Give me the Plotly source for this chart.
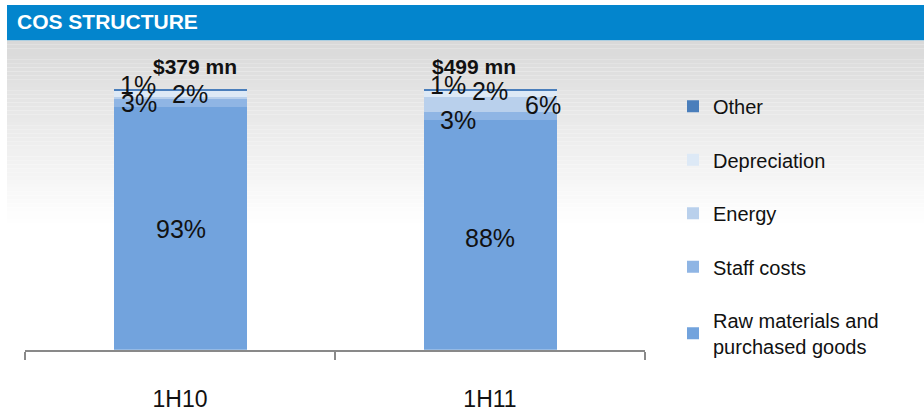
import plotly.graph_objects as go

# ---- data ----
categories = ["1H10", "1H11"]
series_names = ["Raw materials and<br>purchased goods", "Staff costs", "Energy", "Depreciation", "Other"]
raw_materials = [93, 88]
staff_costs = [3, 3]
energy = [1, 6]
depreciation = [2, 2]
other = [1, 1]
totals = ["$379 mn", "$499 mn"]
# which value labels are shown (1H10 energy label is not shown in the source)
show_label = {
    "raw": [True, True],
    "staff": [True, True],
    "energy": [False, True],
    "dep": [True, True],
    "other": [True, True],
}

# ---- style ----
W, H = 924, 412
colors = {"raw": "#72A3DD", "staff": "#8FB5E4", "energy": "#B9D0EC", "dep": "#DDE9F6", "other": "#4A7EBB"}
keys = ["raw", "staff", "energy", "dep", "other"]
values = {"raw": raw_materials, "staff": staff_costs, "energy": energy, "dep": depreciation, "other": other}
# label offsets in px (xshift, yshift) per series per category
label_shift = {
    "raw": [(1, -1), (0, -3)],
    "staff": [(-41, 0), (-32, -4)],
    "energy": [(0, 0), (53, -1)],
    "dep": [(10, 0), (0, 3)],
    "other": [(-42, 5), (-42, 5)],
}
total_shift = [(15, 22), (-16, 22)]

fig = go.Figure()
for i, k in enumerate(keys):
    fig.add_trace(go.Bar(
        x=categories, y=values[k], name=series_names[i],
        marker=dict(color=colors[k], line=dict(width=0)),
        legendgroup=k, legendrank=len(keys) - i, hoverinfo="skip",
    ))

annotations = []
for ci, cat in enumerate(categories):
    cum = 0
    for k in keys:
        v = values[k][ci]
        mid = cum + v / 2
        cum += v
        if show_label[k][ci]:
            xs, ys = label_shift[k][ci]
            annotations.append(dict(
                x=cat, y=mid, xref="x", yref="y", text=f"{v}%", showarrow=False,
                xshift=xs, yshift=ys,
                font=dict(family="Liberation Sans, Arial, sans-serif", size=25, color="#111111"),
            ))
    xs, ys = total_shift[ci]
    annotations.append(dict(
        x=cat, y=cum, xref="x", yref="y", text=f"<b>{totals[ci]}</b>", showarrow=False,
        xshift=xs, yshift=ys,
        font=dict(family="Liberation Sans, Arial, sans-serif", size=21, color="#111111"),
    ))

# header text
annotations.append(dict(
    x=15 / W, y=1 - 22 / H, xref="paper", yref="paper", xanchor="left", yanchor="middle",
    text="<b>COS STRUCTURE</b>", showarrow=False,
    font=dict(family="Liberation Sans, Arial, sans-serif", size=21, color="white"),
))

shapes = []
# header band
shapes.append(dict(type="rect", xref="paper", yref="paper", x0=7 / W, x1=1,
                   y0=1 - 41 / H, y1=1 - 5 / H, fillcolor="#0385CD", line=dict(width=0), layer="below"))
# gray gradient background
top, bot = 41, 230
n = 48
c0, c1 = (217, 217, 217), (255, 255, 255)
for i in range(n):
    py0 = top + (bot - top) * i / n
    py1 = top + (bot - top) * (i + 1) / n
    t = i / (n - 1)
    c = tuple(round(c0[j] + (c1[j] - c0[j]) * t) for j in range(3))
    shapes.append(dict(type="rect", xref="paper", yref="paper", x0=7 / W, x1=1,
                       y0=1 - py1 / H, y1=1 - py0 / H,
                       fillcolor="rgb(%d,%d,%d)" % c, line=dict(width=0), layer="below"))

fig.update_layout(
    width=W, height=H,
    margin=dict(l=0, r=0, t=0, b=0),
    paper_bgcolor="white", plot_bgcolor="rgba(0,0,0,0)",
    barmode="stack", bargap=0.571,
    showlegend=True,
    legend=dict(
        x=673 / W, xanchor="left", y=1 - 88 / H, yanchor="top",
        traceorder="grouped", tracegroupgap=24.5,
        bgcolor="rgba(0,0,0,0)",
        font=dict(family="Liberation Sans, Arial, sans-serif", size=20, color="#111111"),
    ),
    xaxis=dict(
        domain=[25 / W, 645 / W], showline=True, linecolor="#898989", linewidth=2,
        ticks="outside", ticklen=8, tickwidth=2, tickcolor="#898989", tickson="boundaries",
        ticklabelstandoff=28,
        tickfont=dict(family="Liberation Sans, Arial, sans-serif", size=23, color="#111111"),
        showgrid=False, zeroline=False, fixedrange=True,
    ),
    yaxis=dict(
        domain=[(H - 355) / H, (H - 90) / H], range=[0, 100], visible=False,
        showgrid=False, zeroline=False, fixedrange=True,
    ),
    annotations=annotations,
    shapes=shapes,
)

fig.write_html("out.html")
